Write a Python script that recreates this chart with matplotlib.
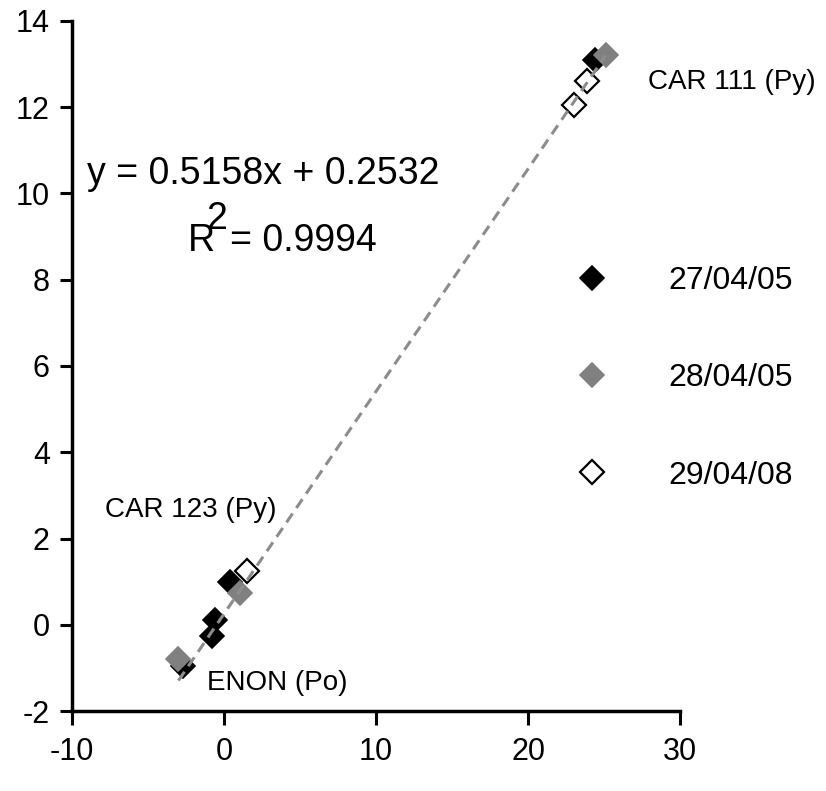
import matplotlib.pyplot as plt
import numpy as np

plt.rcParams['font.family'] = ['Liberation Sans', 'DejaVu Sans']
plt.rcParams['axes.unicode_minus'] = False

# Points (three sampling dates)
x_270405 = [-2.7, -0.6, -0.8, 0.4, 24.4]
y_270405 = [-0.95, 0.1, -0.25, 1.0, 13.1]
x_280405 = [-3.0, 1.05, 25.1]
y_280405 = [-0.8, 0.74, 13.2]
x_290408 = [1.5, 23.0, 23.9]
y_290408 = [1.25, 12.05, 12.6]

labels = ['27/04/05', '28/04/05', '29/04/08']

# Trendline from the chart
slope = 0.5158
intercept = 0.2532
r_squared = 0.9994

fig = plt.figure(figsize=(8.26, 7.91), dpi=100)
ax = fig.add_axes([0.0872, 0.1011, 0.7361, 0.8724])

ms = 12.5
ax.plot(x_270405, y_270405, 'D', color='black', markeredgecolor='black',
        markersize=ms, markeredgewidth=1.2, label=labels[0], zorder=3)
ax.plot(x_280405, y_280405, 'D', color='#808080', markeredgecolor='#808080',
        markersize=ms, markeredgewidth=1.2, label=labels[1], zorder=3)
ax.plot(x_290408, y_290408, 'D', color='white', markeredgecolor='black',
        markersize=ms, markeredgewidth=1.6, label=labels[2], zorder=3)

all_x = np.array(x_270405 + x_280405 + x_290408)
xs = np.array([all_x.min(), all_x.max()])
ax.plot(xs, slope * xs + intercept, color='#8c8c8c', linewidth=2.2,
        dashes=(3.5, 2.2), zorder=4)

ax.set_xlim(-10, 30)
ax.set_ylim(-2, 14)
ax.set_xticks([-10, 0, 10, 20, 30])
ax.set_yticks([-2, 0, 2, 4, 6, 8, 10, 12, 14])

for side in ['top', 'right']:
    ax.spines[side].set_visible(False)
for side in ['left', 'bottom']:
    ax.spines[side].set_linewidth(2.5)

ax.tick_params(axis='y', direction='out', length=9, width=2.2, labelsize=22, pad=7)
ax.tick_params(axis='x', direction='out', length=10, width=2.2, labelsize=22, pad=9)

# equation and R^2, Excel style (the 2 sits over the R)
ax.text(2.6, 10.46, f'y = {slope}x + {intercept}', fontsize=27,
        ha='center', va='center')
ax.text(-2.4, 8.9, 'R', fontsize=27, ha='left', va='center')
ax.text(-1.15, 9.4, '2', fontsize=27, ha='left', va='center')
ax.text(0.4, 8.9, f'= {r_squared}', fontsize=27, ha='left', va='center')

# sample labels
ax.text(27.9, 12.58, 'CAR 111 (Py)', fontsize=20, ha='left', va='center')
ax.text(-7.83, 2.65, 'CAR 123 (Py)', fontsize=20, ha='left', va='center')
ax.text(-1.12, -1.35, 'ENON (Po)', fontsize=20, ha='left', va='center')

ax.legend(loc='center left', bbox_to_anchor=(0.803, 0.482), frameon=False,
          fontsize=23, borderaxespad=0, borderpad=0, handlelength=2,
          handletextpad=1.375, labelspacing=2.1, numpoints=1)

plt.savefig('out.png', dpi=100)
